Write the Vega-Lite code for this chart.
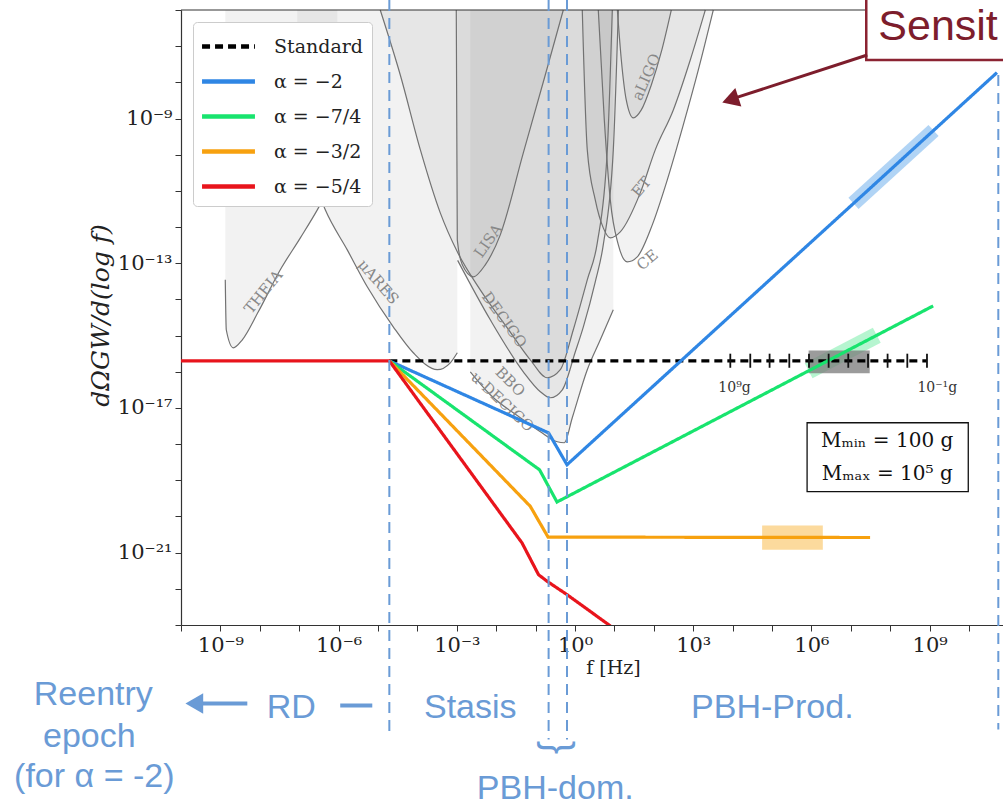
{
"$schema": "https://vega.github.io/schema/vega-lite/v6.json",
"width": 822,
"height": 615,
"autosize": {"type": "none"},
"padding": {"left": 181, "top": 10, "right": 0, "bottom": 181},
"background": "white",
"config": {
  "view": {"stroke": null},
  "axis": {"grid": false, "tickSize": 6, "tickColor": "#333", "domainColor": "#333", "domainWidth": 1.2, "labelFont": "DejaVu Serif", "labelFontSize": 21, "labelColor": "#222", "labelPadding": 3, "labelFlush": false, "labelOverlap": false, "titleFont": "DejaVu Serif", "titleFontWeight": "normal", "titleColor": "#222"},
  "legend": {"symbolType": "M-2,0L2,0", "symbolSize": 700, "symbolStrokeWidth": 4.5, "symbolOffset": 11, "labelFont": "DejaVu Serif", "labelFontSize": 19, "labelColor": "#222", "fillColor": "#ffffff", "strokeColor": "#cccccc", "cornerRadius": 4, "padding": 9, "labelOffset": 30, "rowPadding": 9}
},
"datasets": {
  "det": [
    {"d":"THEIA","f":1.33e-9,"o":3.48e-14},{"d":"THEIA","f":1.41e-9,"o":1.45e-15},{"d":"THEIA","f":2.12e-9,"o":4.6e-16},{"d":"THEIA","f":3.6e-9,"o":7.66e-16},{"d":"THEIA","f":9.16e-9,"o":4.54e-15},{"d":"THEIA","f":3.31e-8,"o":6.58e-14},{"d":"THEIA","f":1.07e-7,"o":5.03e-13},{"d":"THEIA","f":2.88e-7,"o":2.99e-12},{"d":"THEIA","f":9.27e-7,"o":3.35e-11},
    {"d":"muARES","f":8.95e-8,"o":4.84e-10},{"d":"muARES","f":1.91e-7,"o":3.8e-11},{"d":"muARES","f":4.59e-7,"o":2.99e-12},{"d":"muARES","f":1.66e-6,"o":2.34e-13},{"d":"muARES","f":5.34e-6,"o":2.23e-14},{"d":"muARES","f":2.44e-5,"o":1.75e-15},{"d":"muARES","f":7.87e-5,"o":3.35e-16},{"d":"muARES","f":3.2e-4,"o":1.14e-16},{"d":"muARES","f":6.84e-4,"o":1.77e-16},{"d":"muARES","f":1.03e-3,"o":3.35e-16},
    {"d":"DECIGO","f":1.14e-5,"o":1e-6},{"d":"DECIGO","f":3.68e-5,"o":1.6e-8},{"d":"DECIGO","f":1.19e-4,"o":1.36e-10},{"d":"DECIGO","f":3.81e-4,"o":2.47e-12},{"d":"DECIGO","f":1.03e-3,"o":2.07e-13},{"d":"DECIGO","f":3.94e-3,"o":1.84e-14},{"d":"DECIGO","f":1.91e-2,"o":1.64e-15},{"d":"DECIGO","f":7.33e-2,"o":2.14e-16},{"d":"DECIGO","f":0.198,"o":6.83e-17},{"d":"DECIGO","f":0.424,"o":1.14e-16},{"d":"DECIGO","f":0.906,"o":1.45e-15},{"d":"DECIGO","f":2.05,"o":3.48e-14},{"d":"DECIGO","f":3.68,"o":3.66e-13},{"d":"DECIGO","f":6.61,"o":1.36e-10},{"d":"DECIGO","f":8.85,"o":1e-6},
    {"d":"BBO","f":1.05e-3,"o":1.2e-13},{"d":"BBO","f":7.08e-3,"o":2.73e-15},{"d":"BBO","f":4.88e-2,"o":1e-16},{"d":"BBO","f":0.132,"o":2.81e-17},{"d":"BBO","f":0.236,"o":1.91e-17},{"d":"BBO","f":0.477,"o":3.18e-17},{"d":"BBO","f":1.02,"o":3.57e-16},{"d":"BBO","f":1.63,"o":1.75e-15},{"d":"BBO","f":3.27,"o":3.06e-14},{"d":"BBO","f":5.22,"o":3.22e-13},{"d":"BBO","f":9.38,"o":1.36e-10},{"d":"BBO","f":12.6,"o":1e-6},
    {"d":"LISA","f":9.7e-4,"o":1e-6},{"d":"LISA","f":1.03e-3,"o":4.43e-13},{"d":"LISA","f":1.38e-3,"o":9.03e-14},{"d":"LISA","f":2.62e-3,"o":4.21e-14},{"d":"LISA","f":5.28e-3,"o":9.03e-14},{"d":"LISA","f":1.27e-2,"o":6.09e-13},{"d":"LISA","f":4.88e-2,"o":1.12e-10},{"d":"LISA","f":0.176,"o":1.6e-8},{"d":"LISA","f":0.505,"o":1e-6},
    {"d":"uDECIGO","f":2.2e-3,"o":1e-16},{"d":"uDECIGO","f":7.08e-3,"o":2.32e-17},{"d":"uDECIGO","f":4.09e-2,"o":5.36e-18},{"d":"uDECIGO","f":0.132,"o":2.2e-18},{"d":"uDECIGO","f":0.356,"o":1.16e-18},{"d":"uDECIGO","f":0.535,"o":1.09e-18},{"d":"uDECIGO","f":0.853,"o":5.36e-18},{"d":"uDECIGO","f":2.05,"o":1.14e-16},{"d":"uDECIGO","f":4.39,"o":7.66e-16},{"d":"uDECIGO","f":9.38,"o":5.16e-15},
    {"d":"ET","f":1.53,"o":1e-6},{"d":"ET","f":2.05,"o":1.36e-10},{"d":"ET","f":3.27,"o":5.64e-12},{"d":"ET","f":5.22,"o":9.5e-13},{"d":"ET","f":7.87,"o":5.03e-13},{"d":"ET","f":14.1,"o":7.36e-13},{"d":"ET","f":45.4,"o":8.81e-12},{"d":"ET","f":109,"o":1.36e-10},{"d":"ET","f":313,"o":1.73e-9},{"d":"ET","f":843,"o":4.16e-8},{"d":"ET","f":2030,"o":1e-6},
    {"d":"CE","f":3.9,"o":1e-6},{"d":"CE","f":5.55,"o":9.15e-10},{"d":"CE","f":7.87,"o":5.64e-12},{"d":"CE","f":12.6,"o":3.22e-13},{"d":"CE","f":21.2,"o":1.09e-13},{"d":"CE","f":38.1,"o":1.5e-13},{"d":"CE","f":91.6,"o":1.15e-12},{"d":"CE","f":220,"o":2.01e-11},{"d":"CE","f":561,"o":6.65e-10},{"d":"CE","f":1350,"o":2.2e-8},{"d":"CE","f":3240,"o":1e-6},
    {"d":"aLIGO","f":11.9,"o":1e-6},{"d":"aLIGO","f":15,"o":4.16e-8},{"d":"aLIGO","f":20,"o":3.27e-9},{"d":"aLIGO","f":30.2,"o":1.04e-9},{"d":"aLIGO","f":48.2,"o":1.73e-9},{"d":"aLIGO","f":86.5,"o":8.48e-9},{"d":"aLIGO","f":155,"o":6.92e-8},{"d":"aLIGO","f":278,"o":1e-6}
  ]
},
"layer": [
  {
    "data": {"name": "det"},
    "mark": {"type": "area", "fill": "#808080", "fillOpacity": 0.1, "interpolate": "monotone"},
    "encoding": {
      "x": {"field": "f", "type": "quantitative", "scale": {"type": "log", "domain": [1e-10, 7.3e10], "nice": false},
        "axis": {"values": [1e-10,1e-9,1e-8,1e-7,1e-6,1e-5,1e-4,1e-3,1e-2,1e-1,1,10,100,1e3,1e4,1e5,1e6,1e7,1e8,1e9,1e10],
          "labelExpr": "round(log(datum.value)/LN10)==-9?'10⁻⁹':round(log(datum.value)/LN10)==-6?'10⁻⁶':round(log(datum.value)/LN10)==-3?'10⁻³':round(log(datum.value)/LN10)==0?'10⁰':round(log(datum.value)/LN10)==3?'10³':round(log(datum.value)/LN10)==6?'10⁶':round(log(datum.value)/LN10)==9?'10⁹':''",
          "title": "f [Hz]", "titleFontSize": 19, "titleX": 432, "titleY": 42, "titleAlign": "center", "titleBaseline": "middle"}},
      "y": {"field": "o", "type": "quantitative", "scale": {"type": "log", "domain": [1e-23, 1e-6], "nice": false},
        "axis": {"values": [1e-23,1e-22,1e-21,1e-20,1e-19,1e-18,1e-17,1e-16,1e-15,1e-14,1e-13,1e-12,1e-11,1e-10,1e-9,1e-8,1e-7,1e-6],
          "labelExpr": "round(log(datum.value)/LN10)==-21?'10⁻²¹':round(log(datum.value)/LN10)==-17?'10⁻¹⁷':round(log(datum.value)/LN10)==-13?'10⁻¹³':round(log(datum.value)/LN10)==-9?'10⁻⁹':''",
          "title": "dΩGW/d(log f)", "titleFontSize": 25, "titleFontStyle": "italic", "titleX": -81, "titleY": 305, "titleAngle": 270, "titleAlign": "center", "titleBaseline": "middle"}},
      "y2": {"datum": 1e-6},
      "detail": {"field": "d"}
    }
  },
  {
    "data": {"name": "det"},
    "mark": {"type": "line", "stroke": "#727272", "strokeWidth": 1.2, "interpolate": "monotone"},
    "encoding": {
      "x": {"field": "f", "type": "quantitative"},
      "y": {"field": "o", "type": "quantitative"},
      "detail": {"field": "d"}
    }
  },
  {"data": {"values": [{"t": "THEIA", "f": 1.23e-8, "o": 1.62e-14}]}, "mark": {"type": "text", "angle": -51, "font": "DejaVu Serif", "fontSize": 15, "fill": "#888"}, "encoding": {"x": {"field": "f", "type": "quantitative"}, "y": {"field": "o", "type": "quantitative"}, "text": {"field": "t"}}},
  {"data": {"values": [{"t": "μARES", "f": 1.02e-5, "o": 3.06e-14}]}, "mark": {"type": "text", "angle": 49, "font": "DejaVu Serif", "fontSize": 15, "fill": "#888"}, "encoding": {"x": {"field": "f", "type": "quantitative"}, "y": {"field": "o", "type": "quantitative"}, "text": {"field": "t"}}},
  {"data": {"values": [{"t": "LISA", "f": 6.29e-3, "o": 4.16e-13}]}, "mark": {"type": "text", "angle": -55, "font": "DejaVu Serif", "fontSize": 15, "fill": "#888"}, "encoding": {"x": {"field": "f", "type": "quantitative"}, "y": {"field": "o", "type": "quantitative"}, "text": {"field": "t"}}},
  {"data": {"values": [{"t": "DECIGO", "f": 1.61e-2, "o": 2.73e-15}]}, "mark": {"type": "text", "angle": 54, "font": "DejaVu Serif", "fontSize": 15, "fill": "#888"}, "encoding": {"x": {"field": "f", "type": "quantitative"}, "y": {"field": "o", "type": "quantitative"}, "text": {"field": "t"}}},
  {"data": {"values": [{"t": "BBO", "f": 2.28e-2, "o": 5.3e-17}]}, "mark": {"type": "text", "angle": 45, "font": "DejaVu Serif", "fontSize": 15, "fill": "#888"}, "encoding": {"x": {"field": "f", "type": "quantitative"}, "y": {"field": "o", "type": "quantitative"}, "text": {"field": "t"}}},
  {"data": {"values": [{"t": "u-DECIGO", "f": 1.43e-2, "o": 1.48e-17}]}, "mark": {"type": "text", "angle": 43, "font": "DejaVu Serif", "fontSize": 15, "fill": "#888"}, "encoding": {"x": {"field": "f", "type": "quantitative"}, "y": {"field": "o", "type": "quantitative"}, "text": {"field": "t"}}},
  {"data": {"values": [{"t": "aLIGO", "f": 64.6, "o": 1.41e-8}]}, "mark": {"type": "text", "angle": -66, "font": "DejaVu Serif", "fontSize": 15, "fill": "#888"}, "encoding": {"x": {"field": "f", "type": "quantitative"}, "y": {"field": "o", "type": "quantitative"}, "text": {"field": "t"}}},
  {"data": {"values": [{"t": "ET", "f": 48.2, "o": 1.29e-11}]}, "mark": {"type": "text", "angle": -50, "font": "DejaVu Serif", "fontSize": 15, "fill": "#888"}, "encoding": {"x": {"field": "f", "type": "quantitative"}, "y": {"field": "o", "type": "quantitative"}, "text": {"field": "t"}}},
  {"data": {"values": [{"t": "CE", "f": 68.4, "o": 1.24e-13}]}, "mark": {"type": "text", "angle": -40, "font": "DejaVu Serif", "fontSize": 15, "fill": "#888"}, "encoding": {"x": {"field": "f", "type": "quantitative"}, "y": {"field": "o", "type": "quantitative"}, "text": {"field": "t"}}},
  {"data": {"values": [{"f": 5.62e4, "f2": 1.95e6, "o": 5.62e-21, "o2": 1.2e-21}]}, "mark": {"type": "rect", "fill": "#fbd48c", "opacity": 0.85}, "encoding": {"x": {"field": "f", "type": "quantitative"}, "x2": {"field": "f2"}, "y": {"field": "o", "type": "quantitative"}, "y2": {"field": "o2"}}},
  {"data": {"values": [{"f": 1.17e7, "o": 4.51e-12}, {"f": 1.26e9, "o": 4.69e-10}]}, "mark": {"type": "line", "stroke": "#9dc9f3", "strokeWidth": 15, "opacity": 0.8, "strokeCap": "butt"}, "encoding": {"x": {"field": "f", "type": "quantitative"}, "y": {"field": "o", "type": "quantitative"}}},
  {"data": {"values": [{"f": 8.51e5, "o": 1.07e-16}, {"f": 4.57e7, "o": 1.02e-15}]}, "mark": {"type": "line", "stroke": "#a4f3c4", "strokeWidth": 17, "opacity": 0.8, "strokeCap": "butt"}, "encoding": {"x": {"field": "f", "type": "quantitative"}, "y": {"field": "o", "type": "quantitative"}}},
  {"data": {"values": [{"f": 8.51e5, "f2": 3.02e7, "o": 3.89e-16, "o2": 9.12e-17}]}, "mark": {"type": "rect", "fill": "#7a7a7a", "opacity": 0.75}, "encoding": {"x": {"field": "f", "type": "quantitative"}, "x2": {"field": "f2"}, "y": {"field": "o", "type": "quantitative"}, "y2": {"field": "o2"}}},
  {
    "data": {"values": [
      {"s":"Standard","f":1.94e-5,"o":2e-16},{"s":"Standard","f":8.5e8,"o":2e-16},
      {"s":"α = −2","f":1.94e-5,"o":2e-16},{"s":"α = −2","f":0.214,"o":2.04e-18},{"s":"α = −2","f":0.627,"o":2.69e-19},{"s":"α = −2","f":5.13e10,"o":1.86e-8},
      {"s":"α = −7/4","f":1.94e-5,"o":2e-16},{"s":"α = −7/4","f":0.126,"o":1.95e-19},{"s":"α = −7/4","f":0.349,"o":2.51e-20},{"s":"α = −7/4","f":1.23e9,"o":6.61e-15},
      {"s":"α = −3/2","f":1.94e-5,"o":2e-16},{"s":"α = −3/2","f":0.0733,"o":1.91e-20},{"s":"α = −3/2","f":0.207,"o":2.69e-21},{"s":"α = −3/2","f":3.09e7,"o":2.62e-21},
      {"s":"α = −5/4","f":1e-10,"o":2e-16},{"s":"α = −5/4","f":1.94e-5,"o":2e-16},{"s":"α = −5/4","f":0.0452,"o":1.86e-21},{"s":"α = −5/4","f":0.119,"o":2.45e-22},{"s":"α = −5/4","f":0.207,"o":1.55e-22},{"s":"α = −5/4","f":0.627,"o":6.92e-23},{"s":"α = −5/4","f":6.49,"o":1.1e-23},{"s":"α = −5/4","f":15.8,"o":5.37e-24}
    ]},
    "mark": {"type": "line", "strokeWidth": 3.2, "clip": true},
    "encoding": {
      "x": {"field": "f", "type": "quantitative"},
      "y": {"field": "o", "type": "quantitative"},
      "color": {"field": "s", "type": "nominal", "scale": {"domain": ["Standard","α = −2","α = −7/4","α = −3/2","α = −5/4"], "range": ["#000000","#2f86e4","#18e46e","#f7a10f","#e8141c"]}, "legend": {"title": null, "orient": "none", "legendX": 12, "legendY": 12}},
      "strokeDash": {"field": "s", "type": "nominal", "scale": {"domain": ["Standard","α = −2","α = −7/4","α = −3/2","α = −5/4"], "range": [[8,5],[1,0],[1,0],[1,0],[1,0]]}, "legend": {"title": null, "orient": "none", "legendX": 12, "legendY": 12}}
    }
  },
  {"data": {"values": [{"f":8.75e3,"o":3.16e-16,"o2":1.29e-16},{"f":2.81e4,"o":3.16e-16,"o2":1.29e-16},{"f":8.69e4,"o":3.16e-16,"o2":1.29e-16},{"f":2.75e5,"o":3.16e-16,"o2":1.29e-16},{"f":8.69e5,"o":3.16e-16,"o2":1.29e-16},{"f":2.74e6,"o":3.16e-16,"o2":1.29e-16},{"f":8.63e6,"o":3.16e-16,"o2":1.29e-16},{"f":2.74e7,"o":3.16e-16,"o2":1.29e-16},{"f":8.59e7,"o":3.16e-16,"o2":1.29e-16},{"f":2.72e8,"o":3.16e-16,"o2":1.29e-16},{"f":8.59e8,"o":3.16e-16,"o2":1.29e-16}]},
   "mark": {"type": "rule", "stroke": "#111", "strokeWidth": 1.8},
   "encoding": {"x": {"field": "f", "type": "quantitative"}, "y": {"field": "o", "type": "quantitative"}, "y2": {"field": "o2"}}},
  {"data": {"values": [{"t":"10⁹g","f":1.12e4,"o":3.61e-17},{"t":"10⁻¹g","f":1.57e9,"o":3.61e-17}]},
   "mark": {"type": "text", "font": "DejaVu Serif", "fontSize": 14, "fill": "#333"},
   "encoding": {"x": {"field": "f", "type": "quantitative"}, "y": {"field": "o", "type": "quantitative"}, "text": {"field": "t"}}},
  {"data": {"values": [{"f": 7.78e5, "f2": 9.59e9, "o": 3.9e-18, "o2": 4.84e-20}]}, "mark": {"type": "rect", "fill": "#ffffff", "stroke": "#111", "strokeWidth": 1.3}, "encoding": {"x": {"field": "f", "type": "quantitative"}, "x2": {"field": "f2"}, "y": {"field": "o", "type": "quantitative"}, "y2": {"field": "o2"}}},
  {"data": {"values": [{"t":"Mₘᵢₙ = 100 g","f":8.4e7,"o":1.24e-18},{"t":"Mₘₐₓ = 10⁵ g","f":8.4e7,"o":1.52e-19}]},
   "mark": {"type": "text", "font": "DejaVu Serif", "fontSize": 20, "fill": "#111"},
   "encoding": {"x": {"field": "f", "type": "quantitative"}, "y": {"field": "o", "type": "quantitative"}, "text": {"field": "t"}}},
  {"data": {"values": [{"o": 1e-6}]}, "mark": {"type": "rule", "stroke": "#333", "strokeWidth": 1.2}, "encoding": {"y": {"field": "o", "type": "quantitative"}}},
  {"data": {"values": [{"f":1.94e-5,"o":1.89e-6,"o2":9.37e-27},{"f":0.214,"o":1.89e-6,"o2":6.82e-27},{"f":0.627,"o":1.89e-6,"o2":6.82e-27},{"f":5.55e10,"o":1.6e-8,"o2":1.29e-26}]},
   "mark": {"type": "rule", "stroke": "#6a9bd6", "strokeWidth": 2, "strokeDash": [11, 7], "clip": false},
   "encoding": {"x": {"field": "f", "type": "quantitative"}, "y": {"field": "o", "type": "quantitative"}, "y2": {"field": "o2"}}},
  {"data": {"values": [{"t":"Reentry","f":5.94e-13,"o":1.19e-25},{"t":"epoch","f":4.71e-13,"o":8.26e-27},{"t":"(for α = -2)","f":6.3e-13,"o":6.09e-28},{"t":"RD","f":6.26e-8,"o":5.22e-26},{"t":"Stasis","f":2.2e-3,"o":5.22e-26},{"t":"PBH-Prod.","f":1.02e5,"o":5.22e-26},{"t":"PBH-dom.","f":0.316,"o":2.84e-28}]},
   "mark": {"type": "text", "font": "Liberation Sans", "fontSize": 34, "fill": "#6a9bd6", "align": "center", "baseline": "middle", "clip": false},
   "encoding": {"x": {"field": "f", "type": "quantitative"}, "y": {"field": "o", "type": "quantitative"}, "text": {"field": "t"}}},
  {"data": {"values": [{"f":3.09e-10,"f2":4.82e-9,"o":6.74e-26},{"f":1.1e-6,"f2":7.16e-6,"o":5.93e-26}]},
   "mark": {"type": "rule", "stroke": "#6a9bd6", "strokeWidth": 4, "clip": false},
   "encoding": {"x": {"field": "f", "type": "quantitative"}, "x2": {"field": "f2"}, "y": {"field": "o", "type": "quantitative"}}},
  {"data": {"values": [{"f":2.18e-10,"o":6.74e-26}]},
   "mark": {"type": "point", "shape": "triangle-left", "size": 420, "filled": true, "fill": "#6a9bd6", "opacity": 1, "clip": false},
   "encoding": {"x": {"field": "f", "type": "quantitative"}, "y": {"field": "o", "type": "quantitative"}}},
  {"data": {"values": [{"t":"}","f":0.356,"o":4.1e-27}]},
   "mark": {"type": "text", "font": "Liberation Sans", "fontSize": 40, "fill": "#6a9bd6", "angle": 90, "align": "center", "baseline": "middle", "clip": false},
   "encoding": {"x": {"field": "f", "type": "quantitative"}, "y": {"field": "o", "type": "quantitative"}, "text": {"field": "t"}}},
  {"data": {"values": [{"f":2.47e7,"f2":1.26e11,"o":2.59e-6,"o2":4.16e-8}]},
   "mark": {"type": "rect", "fill": "#ffffff", "stroke": "#8b2332", "strokeWidth": 2.5, "clip": false},
   "encoding": {"x": {"field": "f", "type": "quantitative"}, "x2": {"field": "f2"}, "y": {"field": "o", "type": "quantitative"}, "y2": {"field": "o2"}}},
  {"data": {"values": [{"t":"Sensit","f":4.99e7,"o":1.48e-7}]},
   "mark": {"type": "text", "font": "Liberation Sans", "fontSize": 43, "fill": "#7d1d2c", "align": "left", "baseline": "alphabetic", "clip": false},
   "encoding": {"x": {"field": "f", "type": "quantitative"}, "y": {"field": "o", "type": "quantitative"}, "text": {"field": "t"}}},
  {"data": {"values": [{"f":2.62e7,"f2":1.17e4,"o":5.71e-8,"o2":3.71e-9}]},
   "mark": {"type": "rule", "stroke": "#7d1d2c", "strokeWidth": 3, "clip": false},
   "encoding": {"x": {"field": "f", "type": "quantitative"}, "x2": {"field": "f2"}, "y": {"field": "o", "type": "quantitative"}, "y2": {"field": "o2"}}},
  {"data": {"values": [{"f":8.75e3,"o":3.27e-9}]},
   "mark": {"type": "point", "shape": "triangle-right", "angle": 162, "size": 380, "filled": true, "fill": "#7d1d2c", "opacity": 1, "clip": false},
   "encoding": {"x": {"field": "f", "type": "quantitative"}, "y": {"field": "o", "type": "quantitative"}}}
]
}
